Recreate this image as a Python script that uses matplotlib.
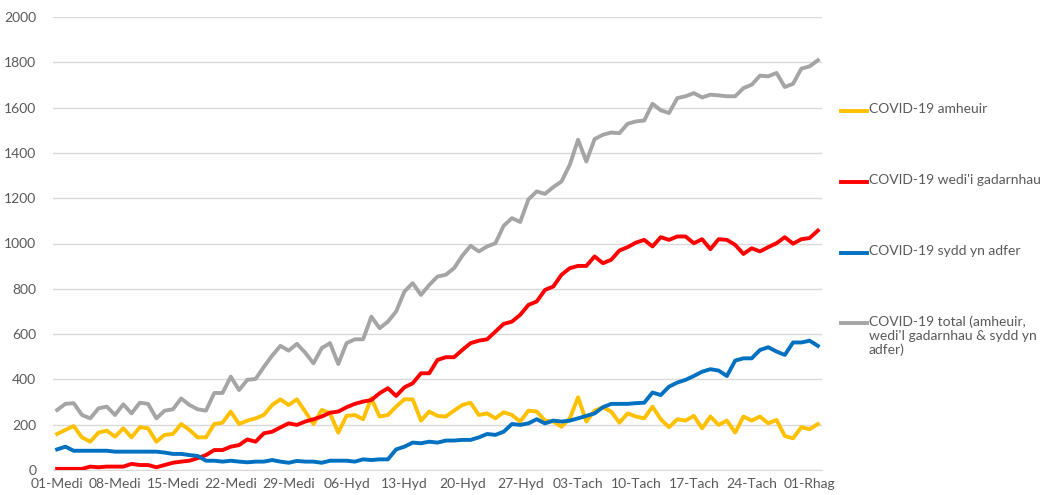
import matplotlib
matplotlib.use("Agg")
import matplotlib.pyplot as plt
from matplotlib.lines import Line2D
import numpy as np
import pandas as pd

# ---- data ----
dates = pd.date_range("2020-09-01", "2020-12-02", freq="D")

tick_labels = ["01-Medi", "08-Medi", "15-Medi", "22-Medi", "29-Medi", "06-Hyd", "13-Hyd",
               "20-Hyd", "27-Hyd", "03-Tach", "10-Tach", "17-Tach", "24-Tach", "01-Rhag"]

amheuir = [159, 177, 194, 144, 125, 165, 174, 147, 184, 144, 189, 184, 125, 155, 159, 203,
           177, 144, 144, 203, 209, 258, 203, 218, 228, 243, 287, 312, 287, 312, 258, 203,
           265, 250, 165, 239, 243, 224, 317, 236, 243, 280, 312, 312, 218, 258, 239, 236,
           262, 287, 297, 243, 250, 228, 255, 243, 214, 262, 258, 218, 214, 191, 228, 321,
           214, 262, 277, 258, 209, 250, 236, 228, 280, 224, 189, 224, 218, 239, 184, 236,
           199, 218, 165, 236, 218, 236, 206, 221, 150, 140, 189, 180, 203]

gadarnhau = [5, 5, 5, 5, 15, 12, 15, 15, 15, 27, 22, 22, 12, 22, 32, 37,
             41, 52, 66, 88, 88, 103, 110, 135, 125, 162, 169, 188, 206, 199, 214, 224,
             236, 253, 258, 277, 292, 302, 309, 339, 361, 327, 365, 383, 427, 427, 486, 498,
             498, 530, 560, 571, 577, 611, 645, 655, 685, 729, 744, 795, 810, 862, 891, 901,
             901, 943, 913, 928, 969, 984, 1004, 1016, 987, 1028, 1016, 1031, 1031, 1001, 1019, 975,
             1019, 1016, 994, 954, 979, 965, 984, 1001, 1028, 999, 1019, 1024, 1057]

adfer = [91, 103, 85, 85, 85, 85, 85, 81, 81, 81, 81, 81, 81, 77, 71, 71,
         66, 62, 41, 41, 37, 41, 37, 34, 37, 37, 44, 37, 32, 40, 37, 37,
         32, 41, 41, 41, 37, 47, 44, 47, 47, 91, 103, 121, 118, 125, 121, 130,
         130, 133, 133, 144, 159, 155, 169, 203, 199, 206, 224, 206, 218, 214, 218, 228,
         239, 250, 277, 292, 292, 292, 295, 297, 342, 331, 368, 386, 398, 415, 434, 445,
         439, 415, 483, 493, 493, 530, 542, 523, 508, 563, 563, 571, 548]

total = [265, 292, 295, 243, 228, 272, 280, 243, 290, 250, 297, 292, 228, 262, 268, 316,
         287, 268, 262, 340, 340, 412, 353, 398, 402, 455, 505, 548, 527, 557, 518, 471,
         538, 560, 468, 560, 577, 577, 677, 626, 655, 700, 788, 825, 773, 817, 854, 862,
         891, 946, 990, 965, 987, 1001, 1078, 1112, 1095, 1195, 1230, 1219, 1249, 1274, 1348, 1458,
         1362, 1461, 1480, 1490, 1487, 1529, 1539, 1543, 1617, 1588, 1576, 1642, 1650, 1664, 1645, 1657,
         1654, 1650, 1650, 1686, 1701, 1741, 1738, 1753, 1691, 1705, 1772, 1782, 1809]

series_labels = ["COVID-19 amheuir",
                 "COVID-19 wedi'i gadarnhau",
                 "COVID-19 sydd yn adfer",
                 "COVID-19 total (amheuir,\nwedi'I gadarnhau & sydd yn\nadfer)"]
series_colors = ["#FFC000", "#FF0000", "#0070C0", "#A5A5A5"]

# ---- plot ----
plt.rcParams["font.family"] = ["Lato", "DejaVu Sans"]
fig = plt.figure(figsize=(10.4, 4.95), dpi=100)
ax = fig.add_axes([53 / 1040, 1 - 470 / 495, (822 - 53) / 1040, (470 - 17) / 495])

x = np.arange(len(dates))
lw = 2.8
ax.plot(x, amheuir, color=series_colors[0], lw=lw, solid_joinstyle="round", zorder=3)
ax.plot(x, gadarnhau, color=series_colors[1], lw=lw, solid_joinstyle="round", zorder=3)
ax.plot(x, adfer, color=series_colors[2], lw=lw, solid_joinstyle="round", zorder=3)
ax.plot(x, total, color=series_colors[3], lw=lw, solid_joinstyle="round", zorder=3)

ax.set_xlim(-0.5, len(dates) - 0.5)
ax.set_ylim(0, 2000)
ax.set_yticks(np.arange(0, 2001, 200))
ax.set_xticks(np.arange(0, len(dates), 7))
ax.set_xticklabels(tick_labels)
ax.grid(axis="y", color="#D9D9D9", lw=1.0, zorder=0)
for s in ["top", "right", "left"]:
    ax.spines[s].set_visible(False)
ax.spines["bottom"].set_color("#D9D9D9")
ax.tick_params(axis="both", length=0, labelsize=10, labelcolor="#595959")
ax.tick_params(axis="x", pad=6)
ax.tick_params(axis="y", pad=12)

# ---- legend (manual, handle aligned with first text line) ----
leg_y = [111, 182, 253, 323]
for lab, col, yy in zip(series_labels, series_colors, leg_y):
    yf = 1 - yy / 495
    fig.add_artist(Line2D([841 / 1040, 867 / 1040], [yf, yf], color=col, lw=lw,
                          transform=fig.transFigure))
    fig.text(869 / 1040, 1 - (yy - 8) / 495, lab, fontsize=10, color="#595959",
             va="top", ha="left", linespacing=1.2)

fig.savefig("out.png", dpi=100, facecolor="white")
